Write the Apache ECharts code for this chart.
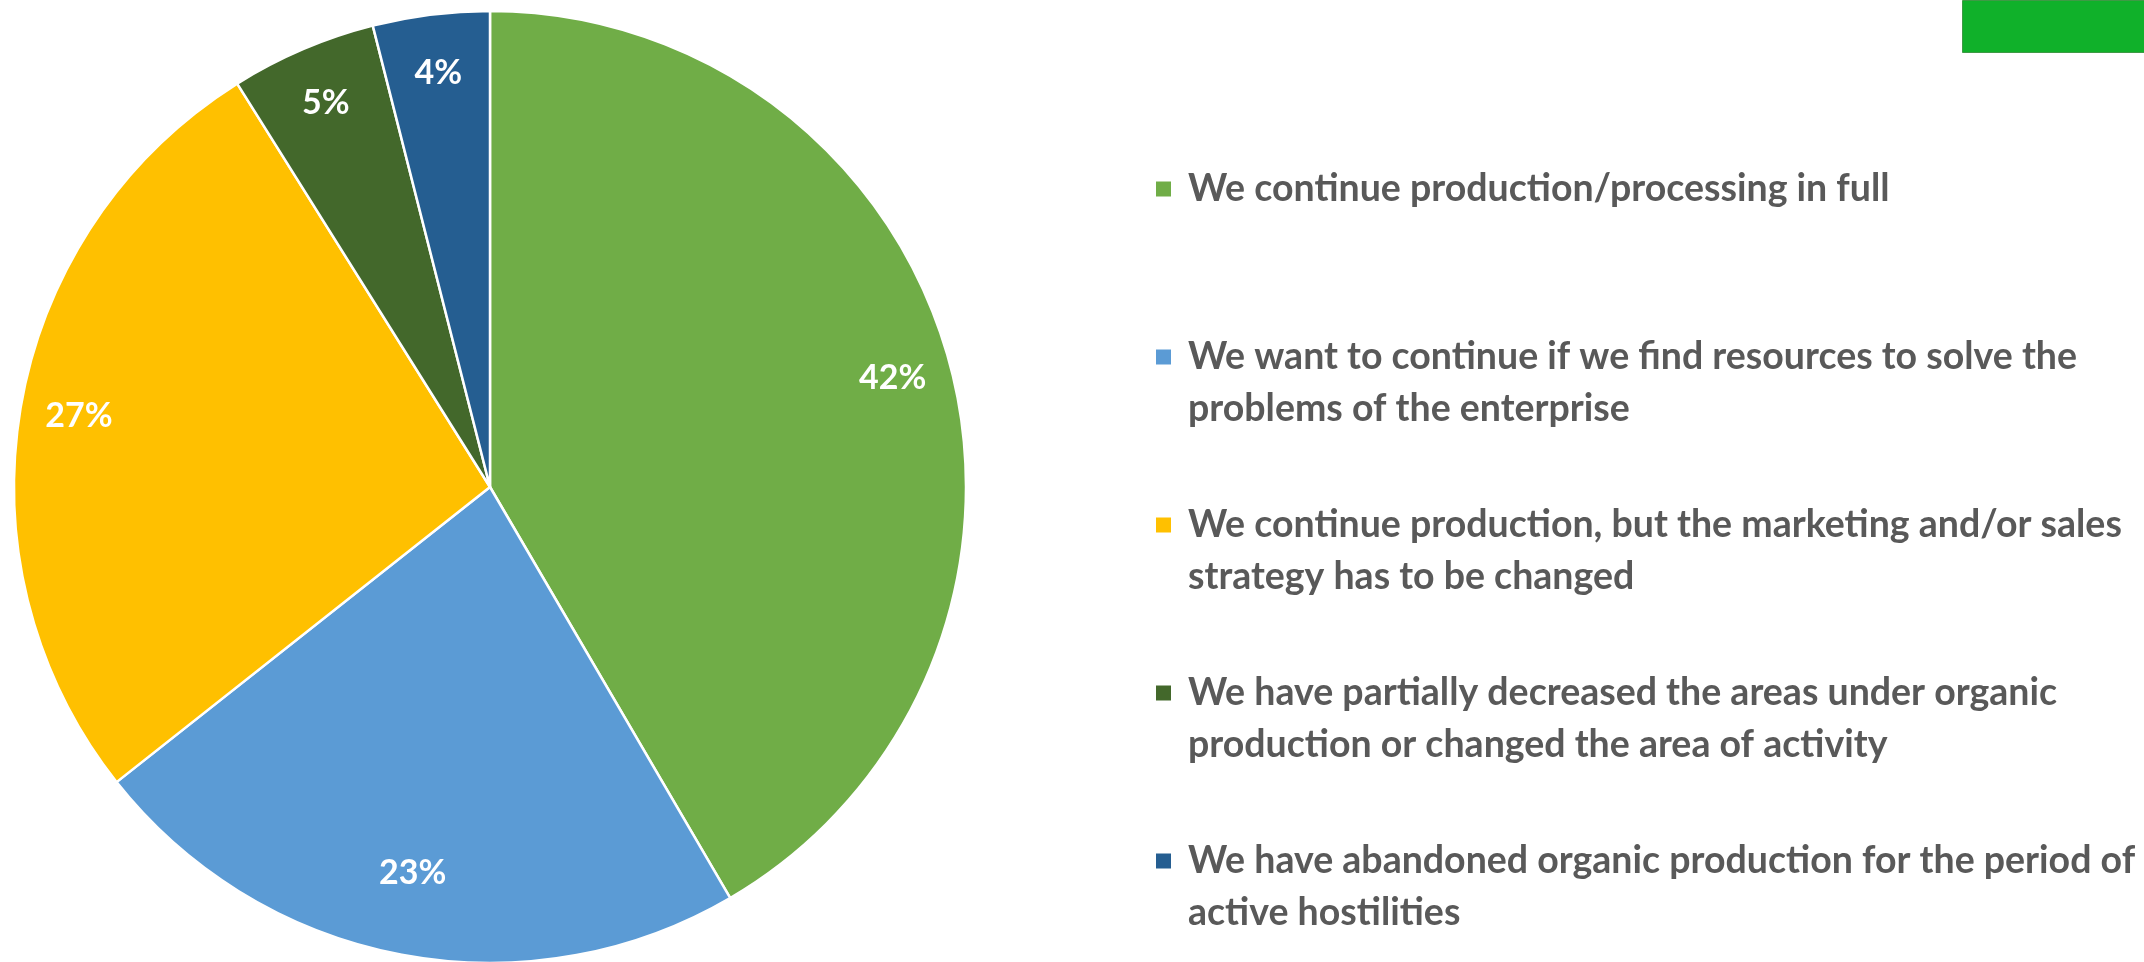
<!DOCTYPE html>
<html>
<head>
<meta charset="utf-8">
<title>Organic producers: current status</title>
<script src="https://cdn.jsdelivr.net/npm/echarts@6/dist/echarts.min.js"></script>
<style>
  html, body { margin: 0; padding: 0; background: #ffffff; }
  #chart { width: 2144px; height: 962px; }
</style>
</head>
<body>
<div id="chart"></div>
<script>
// Answer categories (legend order = slice order, clockwise from 12 o'clock)
const categories = [
  'We continue production/processing in full',
  'We want to continue if we find resources to solve the problems of the enterprise',
  'We continue production, but the marketing and/or sales strategy has to be changed',
  'We have partially decreased the areas under organic production or changed the area of activity',
  'We have abandoned organic production for the period of active hostilities'
];
// Share of respondents, %
const shares = [42, 23, 27, 5, 4];
// Legend text broken into lines
const legendLines = [
  ['We continue production/processing in full'],
  ['We want to continue if we find resources to solve the', 'problems of the enterprise'],
  ['We continue production, but the marketing and/or sales', 'strategy has to be changed'],
  ['We have partially decreased the areas under organic', 'production or changed the area of activity'],
  ['We have abandoned organic production for the period of', 'active hostilities']
];
const colors = ['#70AD47', '#5B9BD5', '#FFC000', '#43682B', '#255E91'];

const pieCenter = [490, 487];
const pieRadius = 476;

const pieData = categories.map((name, i) => ({ name, value: shares[i] }));

const chart = echarts.init(document.getElementById('chart'), null, { renderer: 'canvas' });

chart.setOption({
  backgroundColor: '#ffffff',
  animation: false,
  color: colors,
  legend: {
    orient: 'vertical',
    left: 1149,
    top: 106,
    itemWidth: 17,
    itemHeight: 17,
    itemGap: 12,
    icon: 'rect',
    selectedMode: false,
    data: categories,
    formatter: function (name) {
      const lines = legendLines[categories.indexOf(name)].slice();
      // Keep the marker on the first line: one blank line above, pad below
      while (lines.length < 2) lines.push(' ');
      return ' \n' + lines.join('\n');
    },
    textStyle: {
      fontFamily: 'Lato',
      fontWeight: 'bold',
      fontSize: 37.5,
      lineHeight: 52,
      color: '#595959',
      padding: [0, 0, 0, 11]
    }
  },
  series: [
    {
      type: 'pie',
      name: 'Status',
      center: pieCenter,
      radius: [0, pieRadius],
      startAngle: 90,
      clockwise: true,
      silent: true,
      itemStyle: { borderColor: '#ffffff', borderWidth: 2.5 },
      label: { show: false },
      labelLine: { show: false },
      data: pieData
    },
    {
      // Percentage labels near the outer rim
      type: 'pie',
      name: 'Labels',
      center: pieCenter,
      radius: [pieRadius * 0.74, pieRadius],
      startAngle: 90,
      clockwise: true,
      silent: true,
      itemStyle: { color: 'rgba(0,0,0,0)', borderWidth: 0 },
      label: {
        show: true,
        position: 'inside',
        formatter: '{c}%',
        color: '#ffffff',
        fontFamily: 'Lato',
        fontWeight: 'bold',
        fontSize: 34
      },
      labelLine: { show: false },
      // the label at the bottom of the pie sits a little further in
      labelLayout: function (params) {
        return params.dataIndex === 1 ? { dy: -24 } : {};
      },
      data: pieData
    }
  ],
  graphic: [
    {
      type: 'rect',
      left: 1962,
      top: 0,
      shape: { width: 182, height: 52 },
      style: { fill: '#10B12A', stroke: '#3E9A45', lineWidth: 1 }
    }
  ]
});
</script>
</body>
</html>
